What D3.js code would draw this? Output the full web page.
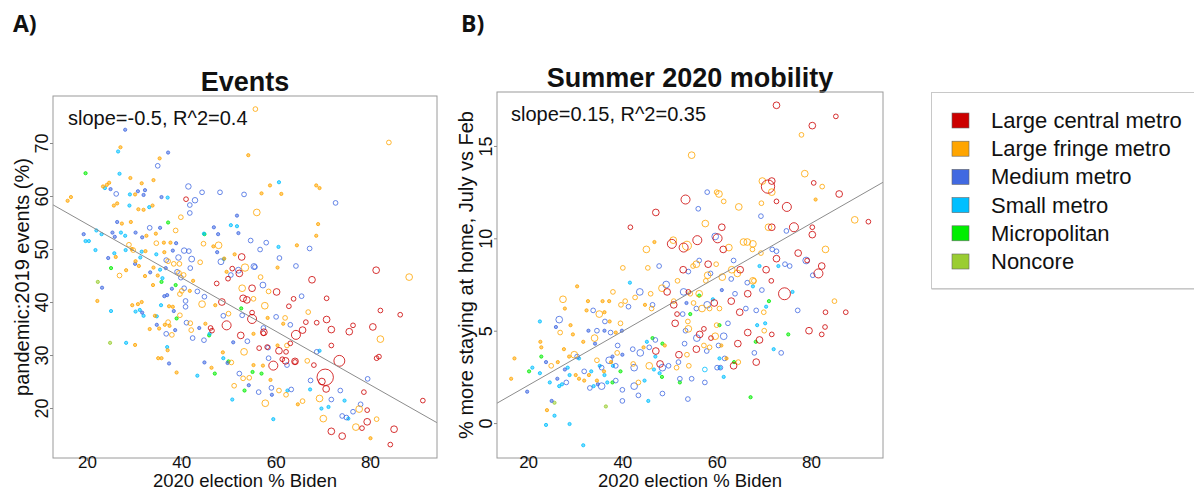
<!DOCTYPE html>
<html><head><meta charset="utf-8">
<script src="https://cdn.jsdelivr.net/npm/d3@7"></script>
<style>
body{margin:0;background:#fff}
svg{display:block}
text{font-family:"Liberation Sans",Arial,Helvetica,sans-serif;fill:#111}
</style>
</head><body>
<svg id="chart" width="1194" height="492"></svg>
<script>
// ---------- labels / categories ----------
const categories = ["Large central metro","Large fringe metro","Medium metro","Small metro","Micropolitan","Noncore"];
const panelLetters = ["A)","B)"];
const panelTitles = ["Events","Summer 2020 mobility"];
const xAxisTitle = "2020 election % Biden";
const yAxisTitles = ["pandemic:2019 events (%)","% more staying at home, July vs Feb"];
const fitLabels = ["slope=-0.5, R^2=0.4","slope=0.15, R^2=0.35"];
const xTicks = [20,40,60,80];
const yTicksEvents = [20,30,40,50,60,70];
const yTicksMobility = [0,5,10,15];
// fitted lines: [intercept, slope]
const fitEvents = [64.8,-0.505];
const fitMobility = [-0.88,0.146];

// ---------- Panel A: [biden %, pandemic:2019 events %, population (millions)] ----------
const evLargeCentral = [
[41.0,59.4,.15],[52.8,48.5,.45],[50.8,46.3,.15],[52.3,45.4,.45],[49.9,44.4,.15],[67.7,44.2,.45],[60.2,41.9,.45],[63.8,40.6,.15],
[62.8,39.2,.15],[66.4,36.2,.15],[65.7,34.7,.45],[64.3,33.8,1.0],[55.0,42.6,.45],[53.1,40.7,.45],[48.6,40.0,.45],[55.0,36.8,1.0],
[57.5,34.3,.45],[49.6,35.6,1.0],[46.2,35.1,.15],[52.6,33.7,.45],[56.5,31.3,.15],[58.2,31.5,.15],[60.7,30.8,.45],[59.5,28.0,1.0],
[61.4,29.2,.15],[62.2,30.6,.15],[64.1,28.7,.15],[70.5,25.8,4.2],[81.3,46.0,.45],[70.8,40.7,.15],[82.2,38.4,.15],[86.4,37.6,.15],
[70.8,36.7,.45],[71.8,34.8,.45],[76.4,35.6,.15],[75.6,34.4,.45],[80.6,35.3,.45],[71.8,31.8,.15],[73.5,28.9,1.6],[81.4,29.4,.15],
[81.9,29.7,.15],[78.7,23.0,.15],[70.7,23.6,.45],[79.4,19.6,.15],[79.4,17.4,.45],[78.3,16.2,.15],[71.8,15.6,.45],[74.1,14.7,.45],
[85.1,16.0,.45],[84.3,13.1,.15],[91.2,21.4,.15],[47.5,43.5,.15],[64.1,28.8,.45],[69.8,25.0,.45],[68.1,28.1,.15],[62.1,28.9,.45],
[63.1,32.2,.15],[57.4,34.1,.15],[68.7,36.1,.15],[53.9,40.4,.45],[55.0,38.0,.15],[46.5,34.6,.15]
];
const evLargeFringe = [
[27.1,69.2,.03],[35.4,67.1,.03],[29.2,63.4,.03],[34.1,63.0,.03],[31.6,62.4,.03],[23.4,61.8,.03],[24.2,62.1,.03],[24.7,62.5,.03],
[30.2,60.3,.03],[15.9,59.1,.03],[16.6,59.8,.03],[26.4,58.6,.03],[25.7,58.2,.03],[30.9,57.5,.03],[32.0,57.4,.03],[33.9,58.2,.03],
[27.4,54.8,.03],[29.3,55.1,.03],[39.9,56.0,.15],[32.6,52.5,.03],[34.6,52.9,.03],[38.8,53.5,.15],[34.7,51.1,.15],[36.3,51.2,.03],
[37.7,51.2,.03],[28.9,50.8,.15],[29.5,50.0,.03],[29.8,49.8,.15],[26.1,48.5,.03],[32.4,49.6,.03],[30.3,47.7,.03],[36.4,49.4,.03],
[37.2,47.7,.15],[39.6,47.2,.15],[26.9,45.0,.15],[28.3,46.0,.03],[31.0,46.8,.03],[32.3,44.9,.03],[34.1,46.5,.03],[35.0,45.0,.03],
[38.4,47.2,.15],[39.5,45.5,.15],[40.5,45.1,.15],[22.2,40.2,.03],[34.0,43.2,.03],[40.1,42.1,.15],[41.8,42.1,.03],[39.7,41.5,.15],
[29.6,39.4,.03],[30.8,39.6,.03],[31.6,40.0,.03],[34.4,37.4,.03],[37.4,39.2,.03],[38.2,39.1,.03],[37.2,36.2,.15],[37.5,35.5,.03],
[39.7,37.5,.15],[41.9,36.0,.15],[33.3,34.9,.03],[35.3,35.0,.03],[36.5,35.7,.03],[38.0,33.8,.15],[42.1,34.7,.15],[30.2,31.9,.03],
[35.1,29.4,.03],[35.8,29.4,.03],[37.1,30.9,.03],[39.0,26.7,.03],
[55.7,76.4,.15],[54.2,67.7,.03],[58.8,62.0,.03],[57.0,60.5,.03],[61.2,60.4,.03],[68.6,62.0,.03],[69.0,54.7,.03],[56.0,56.9,.45],
[64.5,50.7,.03],[46.8,50.5,.03],[47.9,50.7,.45],[44.7,51.0,.15],[49.1,48.2,.03],[51.3,49.0,.03],[53.5,46.5,.6],[49.6,45.7,.03],
[56.8,44.7,.15],[60.4,46.5,.03],[66.9,38.1,.15],[61.6,35.9,.03],[58.3,37.0,.03],[52.9,42.6,.45],[57.7,39.3,.45],[55.3,40.6,.15],
[47.2,39.4,.03],[44.4,39.6,.45],[50.0,37.8,.15],[45.1,35.9,.03],[55.3,34.0,.03],[60.4,31.8,.03],[57.3,28.0,.03],[62.4,31.8,.15],
[66.7,28.9,.15],[53.3,30.6,.45],[48.8,30.5,.03],[46.4,27.6,.03],[50.6,28.6,.15],[55.3,28.1,.03],[53.1,25.6,.15],[54.4,25.7,.15],
[51.2,24.2,.15],[57.8,20.9,.45],[58.9,25.3,.03],[60.7,23.3,.15],[62.2,22.5,.15],[65.7,21.3,.15],[64.7,20.7,.03],[68.6,52.5,.03],
[84.0,70.1,.15],[69.3,61.5,.03],[88.3,44.7,.45],[82.2,33.0,.45],[70.1,18.0,.45],[77.7,19.8,.45],[81.4,17.9,.15],[77.0,16.4,.45],
[80.1,14.3,.03],[69.3,21.8,.45],[42.5,44.0,.03],[44.0,47.5,.15],[58.5,42.0,.15],[62.0,37.0,.15]
];
const evMedium = [
[28.1,72.5,.03],[37.2,68.2,.03],[35.0,65.7,.15],[25.0,61.3,.03],[26.2,60.4,.15],[30.8,60.9,.03],[32.3,61.1,.03],[32.0,60.2,.03],
[35.8,59.8,.03],[41.5,61.8,.25],[41.8,58.3,.15],[41.8,56.8,.15],[26.4,55.1,.03],[33.3,54.0,.15],[35.5,54.0,.03],[19.3,52.8,.03],
[25.4,53.1,.03],[25.9,52.3,.03],[30.3,53.1,.03],[31.7,52.2,.03],[38.9,51.1,.03],[24.5,48.3,.03],[38.2,49.7,.03],[36.8,47.9,.15],
[39.4,48.4,.25],[40.6,49.7,.25],[41.6,49.6,.15],[30.2,47.2,.03],[33.4,45.6,.03],[36.7,46.4,.03],[39.1,45.7,.15],[41.9,46.4,.15],
[39.9,44.6,.15],[23.2,42.7,.03],[38.0,42.5,.03],[40.6,42.6,.15],[37.0,41.3,.03],[36.4,41.1,.03],[40.9,40.2,.15],[40.9,39.1,.15],
[31.7,38.0,.03],[38.4,38.3,.03],[34.8,35.7,.03],[41.1,36.1,.15],[36.8,34.0,.15],[38.7,34.7,.03],[37.4,28.4,.03],
[44.4,60.7,.15],[48.2,60.7,.15],[42.9,59.2,.25],[53.3,60.3,.15],[51.8,56.3,.03],[52.1,53.0,.03],[54.7,51.6,.15],[58.0,51.2,.15],
[67.2,50.1,.15],[46.9,54.1,.03],[47.8,52.8,.03],[47.6,49.4,.03],[56.7,49.9,.15],[60.8,48.3,.15],[55.6,46.6,.15],[50.5,45.1,.15],
[64.3,46.8,.15],[65.5,41.1,.15],[63.1,35.7,.15],[60.1,37.2,.15],[44.9,41.0,.15],[43.4,42.0,.15],[48.9,37.4,.15],[52.9,37.5,.15],
[57.4,35.1,.15],[43.8,35.1,.03],[42.4,33.2,.15],[44.8,32.8,.15],[54.0,32.6,.15],[58.4,31.4,.15],[58.5,29.4,.15],[62.4,28.1,.15],
[51.0,32.4,.03],[44.9,28.6,.03],[49.8,28.5,.03],[52.3,26.5,.15],[54.3,24.3,.03],[56.4,23.0,.15],[59.1,23.8,.15],[59.2,22.5,.03],
[63.3,23.5,.15],[67.4,25.2,.15],[68.7,30.6,.15],[48.4,47.6,.3],[52.1,46.0,.3],[55.4,46.7,.3],[57.3,43.2,.3],[42.2,48.1,.3],
[72.7,58.7,.15],[79.5,25.5,.15],[73.7,23.3,.15],[71.8,21.6,.15],[74.1,18.5,.15],[76.4,19.3,.15],[78.0,20.7,.15],[75.0,18.2,.15]
];
const evSmall = [
[26.6,68.4,.03],[26.9,64.2,.03],[23.8,61.5,.03],[29.1,60.3,.03],[37.1,59.7,.03],[29.0,58.2,.03],[33.2,57.9,.03],[20.4,51.5,.03],
[22.0,53.5,.03],[23.1,52.8,.03],[27.2,53.1,.03],[28.1,52.5,.03],[21.8,49.8,.03],[25.8,49.2,.03],[28.2,49.8,.03],[31.6,49.5,.03],
[31.3,48.4,.03],[34.7,49.0,.03],[35.5,46.1,.03],[36.0,44.5,.03],[25.1,38.3,.03],[30.3,38.2,.03],[31.2,38.5,.03],[32.0,37.4,.03],
[35.7,39.4,.03],[34.8,37.3,.03],[28.3,32.3,.03],[37.0,31.5,.03],[60.7,62.6,.03],[50.5,54.5,.03],[51.8,54.3,.03],[44.8,52.9,.03],
[48.9,29.4,.03],[43.4,26.1,.03],[50.8,21.6,.03],[62.5,23.3,.03],[67.3,23.5,.03],[59.5,17.9,.03],[49.0,48.1,.03],[46.0,34.0,.03],
[74.6,21.4,.03],[69.7,19.9,.03],[71.2,20.2,.03],[75.4,18.0,.03],[69.3,30.8,.03],[60.6,50.4,.03],[19.7,51.5,.03]
];
const evMicro = [
[19.7,64.3,.03],[37.2,55.0,.03],[25.1,46.4,.03],[35.8,43.8,.03],[38.8,43.2,.03],[39.0,36.9,.03],[52.7,38.8,.03],[45.9,33.7,.03],
[47.1,26.5,.03],[55.1,26.8,.03],[53.4,23.3,.03],[50.0,28.8,.03],[57.0,26.5,.03],[44.9,52.8,.03]
];
const evNoncore = [[22.3,43.8,.03],[24.9,32.3,.03]];

// ---------- Panel B: [biden %, % more staying at home, population (millions)] ----------
const mobLargeCentral = [
[53.4,12.1,1.0],[47.1,11.4,.45],[41.7,10.6,.15],[61.1,10.6,.45],[55.9,9.9,1.0],[60.2,10.0,1.0],[50.5,9.7,1.0],[53.0,9.5,1.0],
[61.4,9.4,.45],[52.9,8.3,.45],[58.2,8.6,.45],[65.0,8.3,.45],[49.5,7.1,.45],[66.6,7.0,.45],[50.9,6.4,.45],[59.5,6.5,.45],
[63.1,6.6,.45],[64.9,6.0,.45],[66.6,4.9,.45],[51.6,5.9,.15],[51.2,5.4,.45],[56.4,4.8,.45],[57.3,5.1,.15],[58.8,4.6,.15],
[64.5,4.3,.45],[55.7,4.0,.45],[52.0,3.7,.45],[47.1,3.9,.45],[63.6,3.1,.45],[54.0,7.1,.15],[48.0,3.2,.45],
[72.7,17.2,.45],[85.3,16.6,.15],[80.3,16.1,.45],[80.6,13.0,.15],[86.0,12.4,.45],[70.9,12.8,2.6],[71.7,13.1,.45],[72.7,12.0,.15],
[74.9,11.7,1.0],[71.7,10.6,.45],[76.4,10.6,1.0],[80.3,10.6,.15],[80.3,10.2,.45],[92.2,10.9,.15],[77.3,9.2,.45],[72.7,8.9,.45],
[70.5,8.3,.45],[82.3,8.5,.45],[81.6,8.1,1.0],[79.2,8.8,.15],[71.6,7.7,.15],[74.4,7.0,2.0],[83.1,6.0,.15],[87.4,6.0,.15],
[71.7,4.8,.15],[79.6,5.0,.45],[83.0,5.2,.15],[82.3,4.8,.15],[69.1,4.5,.45],[68.4,3.3,.45]
];
const mobLargeFringe = [
[40.1,8.4,.15],[30.4,7.4,.03],[27.4,6.7,.45],[32.7,6.6,.03],[38.0,7.1,.15],[35.8,6.6,.03],[37.2,6.6,.03],[40.6,6.6,.15],
[39.7,6.4,.15],[32.4,6.1,.03],[35.1,5.9,.45],[36.2,6.0,.03],[27.8,6.2,.03],[29.0,5.3,.03],[37.3,5.5,.03],[39.6,5.4,.15],
[26.8,4.9,.15],[29.5,4.8,.03],[38.6,4.9,.03],[22.6,4.4,.03],[22.8,4.1,.03],[34.1,4.6,.45],[31.7,4.4,.03],[27.6,4.0,.03],
[29.8,3.7,.45],[28.7,3.6,.03],[26.3,3.3,.03],[24.9,3.1,.15],[17.1,3.5,.03],[16.4,2.4,.03],[30.1,2.6,.03],[30.8,2.4,.03],
[32.9,2.6,.03],[31.9,2.3,.03],[34.6,2.3,.03],[36.1,2.8,.03],[34.6,3.4,.15],[24.0,0.7,.03],[37.6,3.3,.03],[38.9,3.8,.15],
[54.7,14.5,.45],[60.0,12.5,.15],[60.5,12.4,.45],[61.5,12.0,.15],[64.7,11.7,.45],[57.6,10.8,.45],[50.8,9.9,.45],[53.7,9.6,1.0],
[62.6,9.5,.45],[65.7,9.8,.45],[66.5,9.8,.45],[67.6,9.4,.15],[45.1,9.4,.45],[45.4,8.4,.15],[55.0,8.5,.15],[55.7,8.6,.45],
[59.9,8.6,.15],[63.2,8.3,.45],[64.4,8.1,.45],[58.1,8.0,.45],[61.2,7.9,.45],[67.9,7.7,.15],[48.4,7.3,.45],[51.7,7.7,.15],
[56.3,7.0,.45],[54.4,7.0,.15],[57.7,7.7,.15],[44.8,6.4,.03],[46.2,6.2,.15],[42.7,6.8,.15],[46.0,7.0,.15],[50.9,6.6,.15],
[55.1,6.5,.15],[58.5,6.2,.15],[60.6,6.2,.15],[56.9,6.2,.45],[53.9,5.5,.15],[54.0,5.1,.45],[59.7,4.7,.45],[60.0,5.3,.15],
[57.3,4.2,.15],[58.5,4.1,.15],[53.7,3.7,.15],[51.5,3.0,.15],[54.1,3.1,.15],[49.0,4.2,.03],[44.5,4.1,.03],[45.7,3.1,.45],
[43.4,2.2,.15],[42.3,3.2,.15],[64.6,3.3,.15],[62.1,3.5,.03],[61.0,4.2,.03],[46.8,9.8,.03],
[78.0,15.6,.15],[78.7,13.5,.45],[82.4,12.8,.15],[81.0,12.1,.03],[69.7,13.1,.45],[71.7,12.5,.45],[69.5,11.9,.15],[71.0,10.6,.45],
[89.3,11.0,.45],[67.7,9.7,.45],[69.4,9.2,.15],[83.1,9.4,.45],[67.7,7.7,.45],[85.0,6.6,.15],[70.0,6.0,.15],[70.1,5.0,.15]
];
const mobMedium = [
[33.8,6.1,.15],[26.6,5.6,.45],[34.6,5.0,.15],[32.8,5.0,.03],[25.9,5.2,.03],[36.2,5.0,.03],[37.5,4.9,.15],[39.9,5.0,.03],
[34.2,4.3,.03],[30.4,3.6,.15],[23.8,3.3,.03],[19.8,1.7,.03],[26.2,2.4,.03],[27.8,2.9,.03],[28.1,2.2,.15],[31.9,2.8,.15],
[33.1,1.9,.15],[35.6,3.0,.15],[35.6,2.0,.45],[37.2,3.4,.45],[38.6,2.3,.15],[38.6,3.1,.15],[37.9,3.6,.03],[39.0,4.2,.15],
[40.0,3.7,.03],[40.0,1.8,.15],[25.0,1.2,.03],[34.8,2.1,.03],[36.3,5.5,.15],[40.0,1.2,.15],
[58.0,12.5,.15],[56.1,11.6,.15],[59.7,10.1,.45],[47.8,8.5,.15],[54.0,8.2,.15],[56.3,8.8,.15],[63.6,8.8,.15],[58.7,8.1,.15],
[63.1,7.8,.15],[66.5,7.6,.15],[49.3,7.5,.45],[53.0,7.1,.45],[61.1,7.2,.03],[63.9,7.0,.15],[43.7,7.1,.45],[41.3,6.3,.15],
[53.6,6.5,.03],[55.7,6.2,.15],[66.2,6.2,.15],[58.0,6.4,.45],[53.4,5.0,.15],[55.8,4.6,.45],[61.5,4.7,.45],[62.4,5.4,.15],
[60.4,4.2,.15],[51.9,3.3,.15],[49.8,3.1,.15],[48.5,3.0,.45],[45.7,4.1,.15],[43.8,3.8,.45],[42.5,3.0,.45],[42.5,2.0,.45],
[43.4,1.5,.15],[48.5,1.6,.15],[52.2,2.4,.15],[54.7,2.4,.15],[53.9,1.3,.15],[57.5,2.2,.15],[60.1,3.0,.15],[60.8,3.0,.15],
[61.7,3.5,.15],[47.0,4.5,.15],[46.4,6.4,.15],[42.2,4.0,.15],[53.2,4.3,.15],[57.9,3.9,.15],[52.8,5.9,.15],
[69.4,11.2,.15],[74.8,10.4,.15],[71.8,9.4,.15],[72.7,9.3,.15],[74.5,8.6,.15],[75.5,8.5,.15],[79.0,8.8,.45],[80.4,8.0,.15],
[69.6,7.2,.15],[68.4,6.1,.15],[77.2,6.1,.15],[73.7,3.8,.15],[68.0,3.8,.15]
];
const mobSmall = [
[22.5,5.5,.03],[22.5,2.7,.03],[20.9,3.0,.03],[24.6,2.2,.03],[28.4,3.0,.03],[28.8,2.6,.03],[26.6,2.0,.03],[30.8,3.5,.03],
[33.4,2.8,.03],[33.9,2.0,.03],[35.2,3.1,.03],[36.2,2.6,.03],[36.8,2.2,.03],[25.6,0.4,.03],[23.8,-0.1,.03],[28.8,-0.05,.03],
[31.7,-1.2,.03],[38.0,3.1,.03],[27.2,2.1,.03],[46.7,2.9,.03],[47.9,2.7,.03],[44.7,2.3,.03],[45.5,1.2,.03],[57.5,2.9,.15],
[60.6,3.5,.03],[61.5,2.5,.03],[47.0,3.6,.03],[59.2,6.7,.03],[45.2,4.4,.03],[41.6,7.6,.03],[60.7,3.0,.03],
[69.1,8.5,.03],[73.1,8.5,.03],[76.1,7.1,.03],[70.5,6.3,.03],[68.6,5.3,.03],[70.3,5.4,.03],[72.1,4.0,.03],[67.7,7.4,.03]
];
const mobMicro = [
[22.8,3.6,.03],[20.2,2.8,.03],[37.9,2.2,.03],[39.6,2.8,.03],[48.4,2.5,.03],[52.2,2.2,.03],[67.2,1.4,.03],[71.1,6.6,.03],
[75.2,4.8,.03],[68.3,4.4,.03],[56.3,6.9,.03],[60.6,5.3,.03],[46.4,4.6,.03],[48.5,4.3,.03],[63.7,3.3,.03],[54.4,5.9,.03]
];
const mobNoncore = [[25.6,1.1,.03],[36.5,0.9,.03]];

// ---------- styling (not data) ----------
const catColors = ["#cc0000","#ffa500","#4169e1","#00bfff","#00ee00","#9acd32"];

const svg = d3.select("#chart");
const W = 1194, H = 492;
svg.append("rect").attr("width",W).attr("height",H).attr("fill","#fff");

const rScale = d3.scaleSqrt().domain([0,4.2]).range([1,8.2]);

const panels = [
  { box:{l:53,t:96,r:437,b:458}, xDom:[12.8,94.2], yDom:[10.57,78.87], yTicks:yTicksEvents,
    series:[evLargeCentral,evLargeFringe,evMedium,evSmall,evMicro,evNoncore], fit:fitEvents,
    letterX:13, titleY:91, fitLabelDX:15 },
  { box:{l:497,t:92,r:883,b:458}, xDom:[13.4,95.3], yDom:[-1.89,17.92], yTicks:yTicksMobility,
    series:[mobLargeCentral,mobLargeFringe,mobMedium,mobSmall,mobMicro,mobNoncore], fit:fitMobility,
    letterX:461, titleY:87, fitLabelDX:14 }
];

panels.forEach((p,i)=>{
  const b = p.box;
  const x = d3.scaleLinear().domain(p.xDom).range([b.l,b.r]);
  const y = d3.scaleLinear().domain(p.yDom).range([b.b,b.t]);
  const g = svg.append("g");

  // panel letter
  g.append("text").attr("x",p.letterX).attr("y",32)
    .style("font-family","'Open Sans',sans-serif").style("font-weight","700").style("font-size","23px")
    .text(panelLetters[i]);
  // title
  g.append("text").attr("x",(b.l+b.r)/2).attr("y",p.titleY).attr("text-anchor","middle")
    .style("font-weight","700").style("font-size","27px").text(panelTitles[i]);

  // clip
  const cid = "clip"+i;
  svg.append("clipPath").attr("id",cid).append("rect")
    .attr("x",b.l).attr("y",b.t).attr("width",b.r-b.l).attr("height",b.b-b.t);

  // points: draw in reverse category order so central metro on top
  const pg = g.append("g").attr("clip-path",`url(#${cid})`);
  for (let c = p.series.length-1; c >= 0; c--) {
    pg.selectAll(null).data(p.series[c]).enter().append("circle")
      .attr("cx",d=>x(d[0])).attr("cy",d=>y(d[1])).attr("r",d=>rScale(d[2]))
      .attr("fill",d=> d[2] < 0.1 ? catColors[c] : "none")
      .attr("fill-opacity",0.55)
      .attr("stroke",catColors[c]).attr("stroke-width",1)
      .attr("stroke-opacity",0.8);
  }

  // fitted line
  const [a0,s0] = p.fit;
  pg.append("line")
    .attr("x1",x(p.xDom[0])).attr("y1",y(a0+s0*p.xDom[0]))
    .attr("x2",x(p.xDom[1])).attr("y2",y(a0+s0*p.xDom[1]))
    .attr("stroke","#8c8c8c").attr("stroke-width",1);

  // box
  g.append("rect").attr("x",b.l).attr("y",b.t).attr("width",b.r-b.l).attr("height",b.b-b.t)
    .attr("fill","none").attr("stroke","#9a9a9a").attr("stroke-width",1);

  // x axis
  const xa = g.append("g").attr("transform",`translate(0,${b.b})`)
    .call(d3.axisBottom(x).tickValues(xTicks).tickSize(3).tickFormat(d3.format("d")));
  xa.select(".domain").remove();
  xa.selectAll("line").attr("stroke","#888");
  xa.selectAll("text").attr("dy",null).attr("y",9.5)
    .style("font-size","17px").style("font-family","'Liberation Sans',Arial,sans-serif").attr("fill","#111");

  // y axis
  const ya = g.append("g").attr("transform",`translate(${b.l},0)`)
    .call(d3.axisLeft(y).tickValues(p.yTicks).tickSize(3).tickFormat(d3.format("d")));
  ya.select(".domain").remove();
  ya.selectAll("line").attr("stroke","#888");
  ya.selectAll("text")
    .attr("x",null).attr("dy",null)
    .attr("transform","rotate(-90)").attr("y",-5).attr("x",0)
    .attr("text-anchor","middle")
    .style("font-size","18px").style("font-family","'Liberation Sans',Arial,sans-serif").attr("fill","#111");

  // axis titles
  g.append("text").attr("x",(b.l+b.r)/2).attr("y",487).attr("text-anchor","middle")
    .style("font-size","18.5px").text(xAxisTitle);
  const yt = i===0 ? 29 : 473;
  g.append("text").attr("transform",`translate(${yt},${(b.t+b.b)/2}) rotate(-90)`)
    .attr("text-anchor","middle").style("font-size","20px").text(yAxisTitles[i]);

  // fit label
  g.append("text").attr("x",b.l+p.fitLabelDX).attr("y",b.t+28.5)
    .style("font-size","20px").text(fitLabels[i]);
});

// legend
const lg = svg.append("g");
lg.append("rect").attr("x",931.5).attr("y",92.5).attr("width",300).attr("height",196)
  .attr("fill","#fff").attr("stroke","#c8c8c8").attr("stroke-width",1);
lg.append("line").attr("x1",931.5).attr("x2",1194).attr("y1",289.5).attr("y2",289.5)
  .attr("stroke","#dcdcdc").attr("stroke-width",1);
const ly = d3.scalePoint().domain(categories).range([120.5,261.5]);
const items = lg.selectAll("g.item").data(categories).enter().append("g")
  .attr("transform",d=>`translate(0,${ly(d)})`);
items.append("rect").attr("x",952).attr("y",-7.5).attr("width",17).attr("height",15)
  .attr("fill",(d,k)=>catColors[k]).attr("stroke","#666").attr("stroke-width",0.6);
items.append("text").attr("x",991).attr("y",7.5).style("font-size","22px").text(d=>d);
</script>
</body></html>
